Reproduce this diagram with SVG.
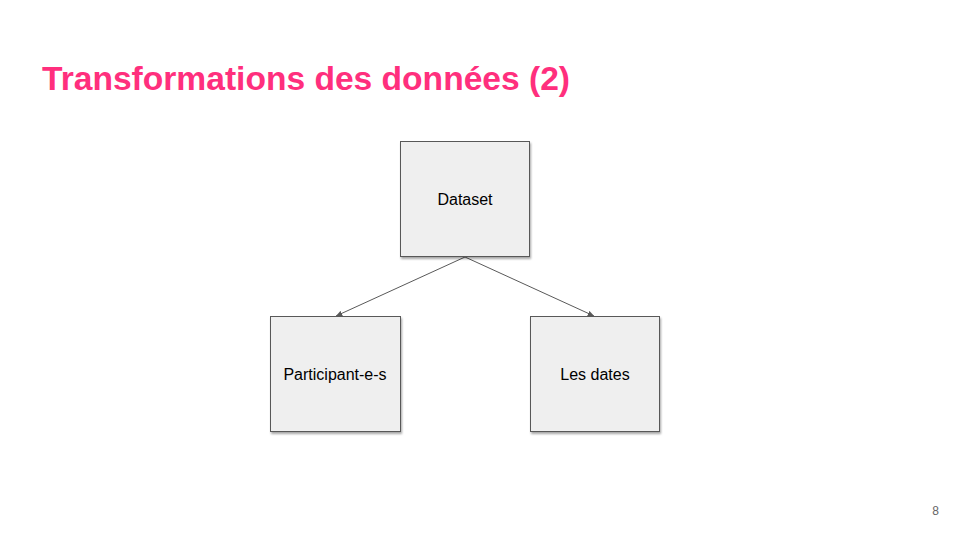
<svg xmlns="http://www.w3.org/2000/svg" width="960" height="540" viewBox="0 0 960 540">
<style>
.title{font-family:"Liberation Sans",Arial,sans-serif;font-weight:bold;font-size:33.6px;fill:#ff2f7d}
.box{fill:#efefef;stroke:#595959;stroke-width:1}
.lbl{font-family:"Liberation Sans",Arial,sans-serif;font-size:16px;fill:#000;text-anchor:middle}
.edge{stroke:#595959;stroke-width:1;fill:none}
.pg{font-family:"Liberation Sans",Arial,sans-serif;font-size:12px;fill:#666;text-anchor:end}
</style>
<defs>
<filter id="sh" x="-10%" y="-10%" width="130%" height="130%">
<feDropShadow dx="1" dy="2" stdDeviation="1.2" flood-color="#000" flood-opacity="0.35"/>
</filter>
<marker id="ah" viewBox="0 0 10 10" refX="9" refY="5" markerWidth="7" markerHeight="7" orient="auto-start-reverse" markerUnits="userSpaceOnUse">
<path d="M0,1 L9,5 L0,9 Z" fill="#595959"/>
</marker>
</defs>
<rect width="960" height="540" fill="#fff"/>
<text class="title" x="42" y="90">Transformations des données (2)</text>
<g id="connectors">
<line class="edge" x1="465" y1="257" x2="336" y2="316" marker-end="url(#ah)"/>
<line class="edge" x1="465" y1="257" x2="594" y2="316" marker-end="url(#ah)"/>
</g>
<g id="dataset">
<rect class="box" x="400.5" y="141.5" width="129" height="115" filter="url(#sh)"/>
<text class="lbl" x="465" y="205">Dataset</text>
</g>
<g id="participants">
<rect class="box" x="270.5" y="316.5" width="130" height="115" filter="url(#sh)"/>
<text class="lbl" x="335" y="380">Participant-e-s</text>
</g>
<g id="dates">
<rect class="box" x="530.5" y="316.5" width="129" height="115" filter="url(#sh)"/>
<text class="lbl" x="595" y="380">Les dates</text>
</g>
<text class="pg" x="939" y="515">8</text>
</svg>
